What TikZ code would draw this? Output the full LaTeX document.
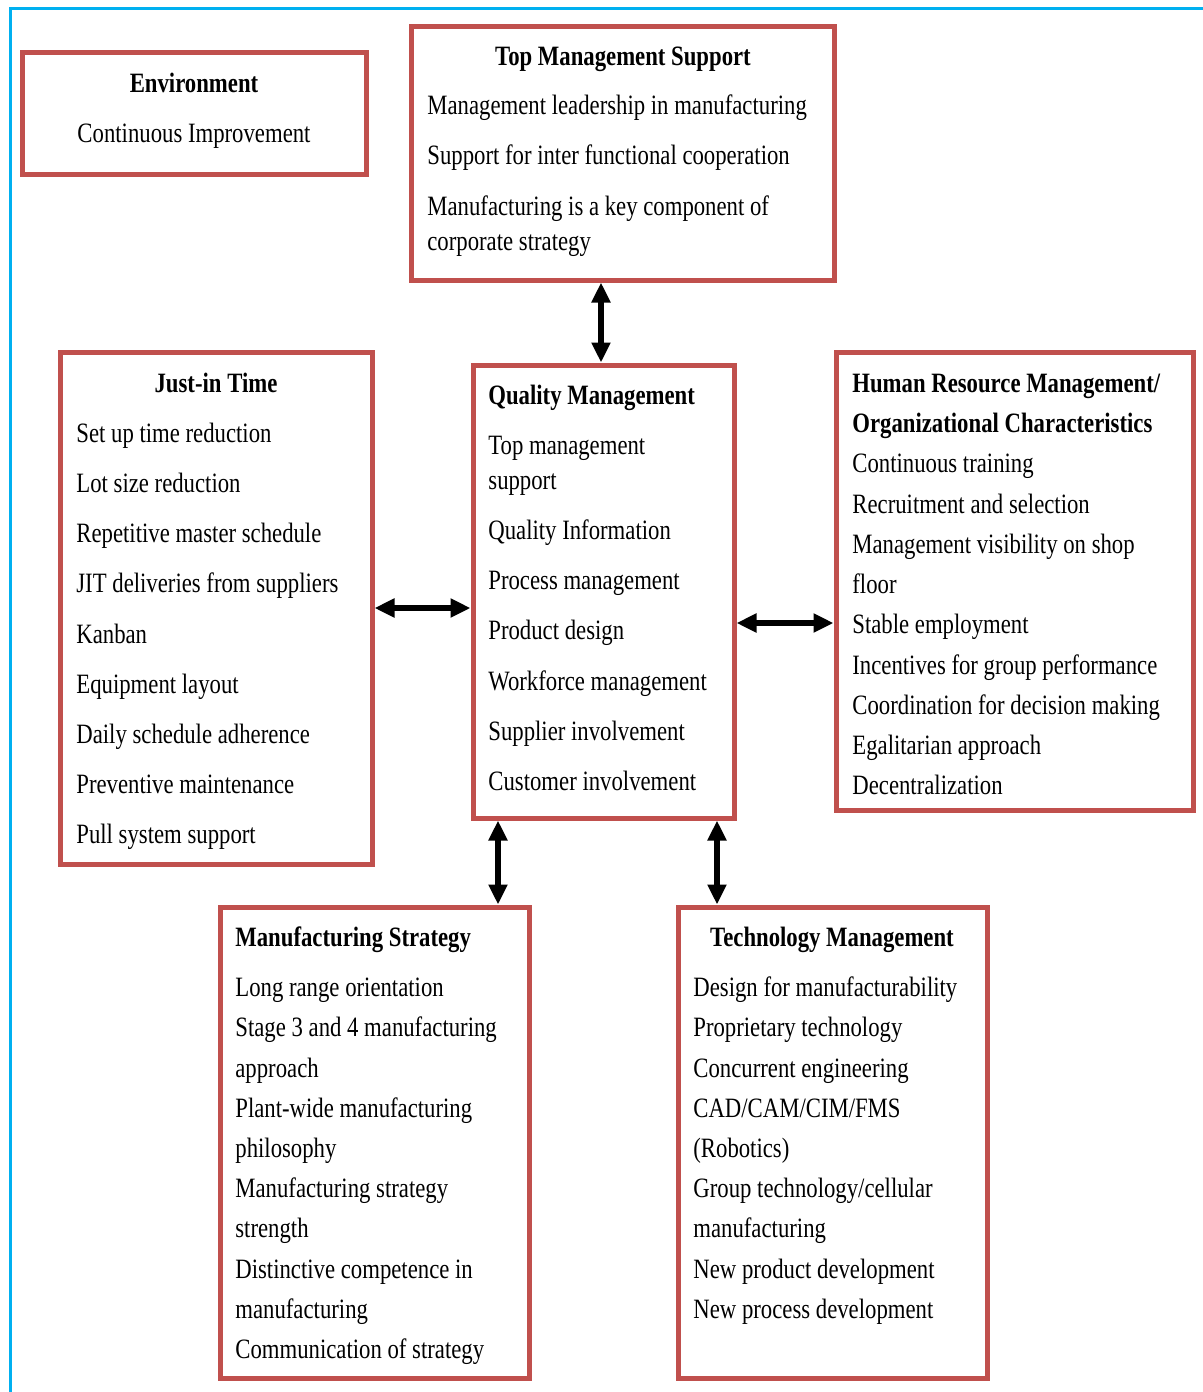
\documentclass[tikz,border=0pt]{standalone}
\usepackage{fontspec}
\setmainfont{Liberation Serif}[FakeStretch=0.812]
\usetikzlibrary{arrows.meta,fit}
\definecolor{boxred}{HTML}{C0504D}
\definecolor{framecyan}{HTML}{00B0F0}
% item text: left aligned on its baseline; head: bold, centred
\newcommand\itm[4]{\node[itemtext] (#1) at (#2,#3+8) {#4};}
\newcommand\hd[4]{\node[headtext] (#1) at (#2,#3+8) {#4};}
\newcommand\hdl[4]{\node[headtext,anchor=base west] (#1) at (#2,#3+8) {#4};}
\begin{document}
\begin{tikzpicture}[x=0.5pt,y=-0.5pt,
  panel/.style={draw=boxred,line width=2.5pt,inner sep=0pt,fill=white},
  itemtext/.style={anchor=base west,inner sep=0pt,font=\fontsize{14}{16}\selectfont},
  headtext/.style={anchor=base,inner sep=0pt,font=\fontsize{14}{16}\selectfont\bfseries},
  link/.style={line width=2.7pt,{Triangle[width=9pt,length=10pt]}-{Triangle[width=9pt,length=10pt]}}]
\useasboundingbox (0,0) rectangle (1203,1392);
% outer frame lines
\draw[framecyan,line width=1.5pt] (10,1392) -- (10,8) -- (1203,8);

% panels
\node[panel,fit={(22,52)(366,174)}] (env) {};
\node[panel,fit={(411,26)(834,280)}] (top) {};
\node[panel,fit={(60,352)(372,864)}] (jit) {};
\node[panel,fit={(473,365)(734,818)}] (qm) {};
\node[panel,fit={(836,352)(1193,810)}] (hrm) {};
\node[panel,fit={(220,907)(529,1378)}] (ms) {};
\node[panel,fit={(678,907)(987,1378)}] (tm) {};

% connectors
\coordinate (tqx) at (601,0);
\coordinate (hq) at (0,623);
\coordinate (msx) at (498,0);
\coordinate (tmx) at (717,0);
\draw[link] (top.south -| tqx) -- (qm.north -| tqx);
\draw[link] (jit.east) -- (jit.east -| qm.west);
\draw[link] (qm.east |- hq) -- (hrm.west |- hq);
\draw[link] (qm.south -| msx) -- (ms.north -| msx);
\draw[link] (qm.south -| tmx) -- (tm.north -| tmx);

% Environment
\hd{env0}{194}{84}{Environment}
\node[headtext,font=\fontsize{14}{16}\selectfont] (env1) at (194,142) {Continuous Improvement};

% Top Management Support
\hd{top0}{623}{57}{Top Management Support}
\itm{top1}{427}{106}{Management leadership in manufacturing}
\itm{top2}{427}{156}{Support for inter functional cooperation}
\itm{top3}{427}{207}{Manufacturing is a key component of}
\itm{top4}{427}{242}{corporate strategy}

% Just-in Time
\hd{jit0}{216}{384}{Just-in Time}
\itm{jit1}{76}{434}{Set up time reduction}
\itm{jit2}{76}{484}{Lot size reduction}
\itm{jit3}{76}{534}{Repetitive master schedule}
\itm{jit4}{76}{584}{JIT deliveries from suppliers}
\itm{jit5}{76}{635}{Kanban}
\itm{jit6}{76}{685}{Equipment layout}
\itm{jit7}{76}{735}{Daily schedule adherence}
\itm{jit8}{76}{785}{Preventive maintenance}
\itm{jit9}{76}{835}{Pull system support}

% Quality Management
\hdl{qm0}{488}{396}{Quality Management}
\itm{qm1}{488}{446}{Top management}
\itm{qm2}{488}{481}{support}
\itm{qm3}{488}{531}{Quality Information}
\itm{qm4}{488}{581}{Process management}
\itm{qm5}{488}{631}{Product design}
\itm{qm6}{488}{682}{Workforce management}
\itm{qm7}{488}{732}{Supplier involvement}
\itm{qm8}{488}{782}{Customer involvement}

% Human Resource Management
\hdl{hrm0}{852}{384}{Human Resource Management/}
\hdl{hrm1}{852}{424}{Organizational Characteristics}
\itm{hrm2}{852}{464}{Continuous training}
\itm{hrm3}{852}{505}{Recruitment and selection}
\itm{hrm4}{852}{545}{Management visibility on shop}
\itm{hrm5}{852}{585}{floor}
\itm{hrm6}{852}{625}{Stable employment}
\itm{hrm7}{852}{666}{Incentives for group performance}
\itm{hrm8}{852}{706}{Coordination for decision making}
\itm{hrm9}{852}{746}{Egalitarian approach}
\itm{hrm10}{852}{786}{Decentralization}

% Manufacturing Strategy
\hdl{ms0}{235}{938}{Manufacturing Strategy}
\itm{ms1}{235}{988}{Long range orientation}
\itm{ms2}{235}{1028}{Stage 3 and 4 manufacturing}
\itm{ms3}{235}{1069}{approach}
\itm{ms4}{235}{1109}{Plant-wide manufacturing}
\itm{ms5}{235}{1149}{philosophy}
\itm{ms6}{235}{1189}{Manufacturing strategy}
\itm{ms7}{235}{1229}{strength}
\itm{ms8}{235}{1270}{Distinctive competence in}
\itm{ms9}{235}{1310}{manufacturing}
\itm{ms10}{235}{1350}{Communication of strategy}

% Technology Management
\hd{tm0}{832}{938}{Technology Management}
\itm{tm1}{693}{988}{Design for manufacturability}
\itm{tm2}{693}{1028}{Proprietary technology}
\itm{tm3}{693}{1069}{Concurrent engineering}
\itm{tm4}{693}{1109}{CAD/CAM/CIM/FMS}
\itm{tm5}{693}{1149}{(Robotics)}
\itm{tm6}{693}{1189}{Group technology/cellular}
\itm{tm7}{693}{1229}{manufacturing}
\itm{tm8}{693}{1270}{New product development}
\itm{tm9}{693}{1310}{New process development}
\end{tikzpicture}
\end{document}
